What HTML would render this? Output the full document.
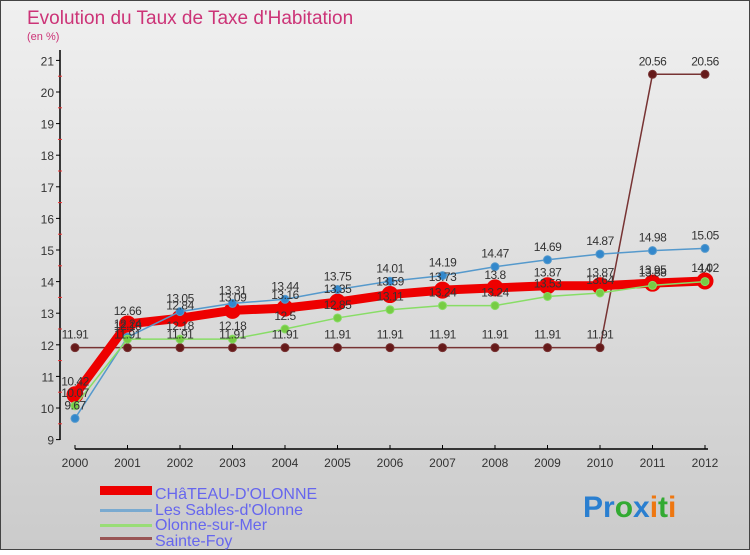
<!DOCTYPE html>
<html><head><meta charset="utf-8"><style>
body{margin:0;width:750px;height:550px;overflow:hidden;font-family:"Liberation Sans",sans-serif}
</style></head><body>
<svg width="750" height="550" xmlns="http://www.w3.org/2000/svg">
<defs><linearGradient id="bg" x1="0" y1="0" x2="0" y2="1"><stop offset="0" stop-color="#f0f0f0"/><stop offset="1" stop-color="#cbcbcb"/></linearGradient></defs>
<rect x="0.5" y="0.5" width="749" height="549" fill="url(#bg)" stroke="#444"/>
<text x="27" y="24" font-size="19" fill="#cc3377">Evolution du Taux de Taxe d'Habitation</text>
<text x="27" y="40" font-size="11" fill="#cc3377">(en %)</text>
<g id="axes"></g>
<g id="series"></g>
<g id="legend" font-size="16" fill="#6666ee">
<rect x="100" y="486" width="52" height="9" fill="#ee0000"/>
<text x="155" y="499">CHâTEAU-D'OLONNE</text>
<rect x="100" y="509" width="52" height="3" fill="#7aaad0"/>
<text x="155" y="515">Les Sables-d'Olonne</text>
<rect x="100" y="524" width="52" height="3" fill="#99dd77"/>
<text x="155" y="530">Olonne-sur-Mer</text>
<rect x="100" y="537" width="52" height="3" fill="#995555"/>
<text x="155" y="546">Sainte-Foy</text>
</g>
<g font-size="30" font-weight="bold"><text x="583" y="517"><tspan fill="#2a7fd0">Pr</tspan><tspan fill="#33aa33">o</tspan><tspan fill="#2a7fd0">x</tspan><tspan fill="#ee7711">i</tspan><tspan fill="#33aa33">t</tspan><tspan fill="#ee7711">i</tspan></text></g>
</svg>
<script>
const years=[2000,2001,2002,2003,2004,2005,2006,2007,2008,2009,2010,2011,2012];
const chateau=[10.42,12.66,12.84,13.09,13.16,13.35,13.59,13.73,13.8,13.87,13.87,13.95,14.02];
const sables=[9.67,12.24,13.05,13.31,13.44,13.75,14.01,14.19,14.47,14.69,14.87,14.98,15.05];
const olonne=[10.07,12.18,12.18,12.18,12.5,12.85,13.11,13.24,13.24,13.53,13.64,13.88,14];
const sainteFoy=[11.91,11.91,11.91,11.91,11.91,11.91,11.91,11.91,11.91,11.91,11.91,20.56,20.56];
const yTicks=[9,10,11,12,13,14,15,16,17,18,19,20,21];
const NS="http://www.w3.org/2000/svg";
const xs=i=>75+i*52.5;
const ys=v=>439.6-(v-9)*31.6;
function mk(tag,attrs,parent,text){const e=document.createElementNS(NS,tag);for(const k in attrs)e.setAttribute(k,attrs[k]);if(text!==undefined)e.textContent=text;parent.appendChild(e);return e;}
const ax=document.getElementById('axes');
let yl=mk('line',{x1:60,y1:50,x2:60,y2:440,stroke:'#000','stroke-width':1.5},ax);


let xl=mk('line',{x1:75,y1:449,x2:708,y2:449,stroke:'#000','stroke-width':1.5},ax);


yTicks.forEach(t=>{const y=ys(t);
 mk('line',{x1:56,y1:y,x2:60,y2:y,stroke:'#000'},ax);
 if(t<21)mk('line',{x1:58,y1:y-15.8,x2:62,y2:y-15.8,stroke:'#e33'},ax);
 const tx=mk('text',{x:54,y:y+5,'font-size':12,fill:'#333','text-anchor':'end'},ax,String(t));
 
 
});
years.forEach((yr,i)=>{const x=xs(i);
 mk('line',{x1:x,y1:445,x2:x,y2:449,stroke:'#000'},ax);
 const tx=mk('text',{x:x,y:467,'font-size':12,fill:'#333','text-anchor':'middle'},ax,String(yr));
 
 
});
const sg=document.getElementById('series');
function series(data,name,color,lw,r,fill){
 const g=mk('g',{},sg);
 
 
 const p=mk('polyline',{points:data.map((v,i)=>xs(i)+','+ys(v)).join(' '),fill:'none',stroke:color,'stroke-width':lw},g);
 
 
 data.forEach((v,i)=>{
  const c=mk('circle',{cx:xs(i),cy:ys(v),r:r,fill:fill,stroke:color,'stroke-width':1},g);
  
  
 });
 return g;
}
function labels(data,name){
 const g=mk('g',{},sg);
 data.forEach((v,i)=>{
  const t=mk('text',{x:xs(i),y:ys(v)-9,'font-size':12,fill:'#333','text-anchor':'middle','letter-spacing':'-0.5'},g,String(v));
  
  
 });
}
series(sainteFoy,'sainte-foy','#773333',1.5,4,'#661a1a');
series(chateau,'chateau','#ee0000',9,8,'#ee0000');
series(sables,'sables','#5599cc',1.5,4,'#3388cc');
series(olonne,'olonne','#88dd66',1.5,4,'#77cc44');
labels(sainteFoy,'sainte-foy');labels(chateau,'chateau');labels(sables,'sables');labels(olonne,'olonne');
</script>
</body></html>
